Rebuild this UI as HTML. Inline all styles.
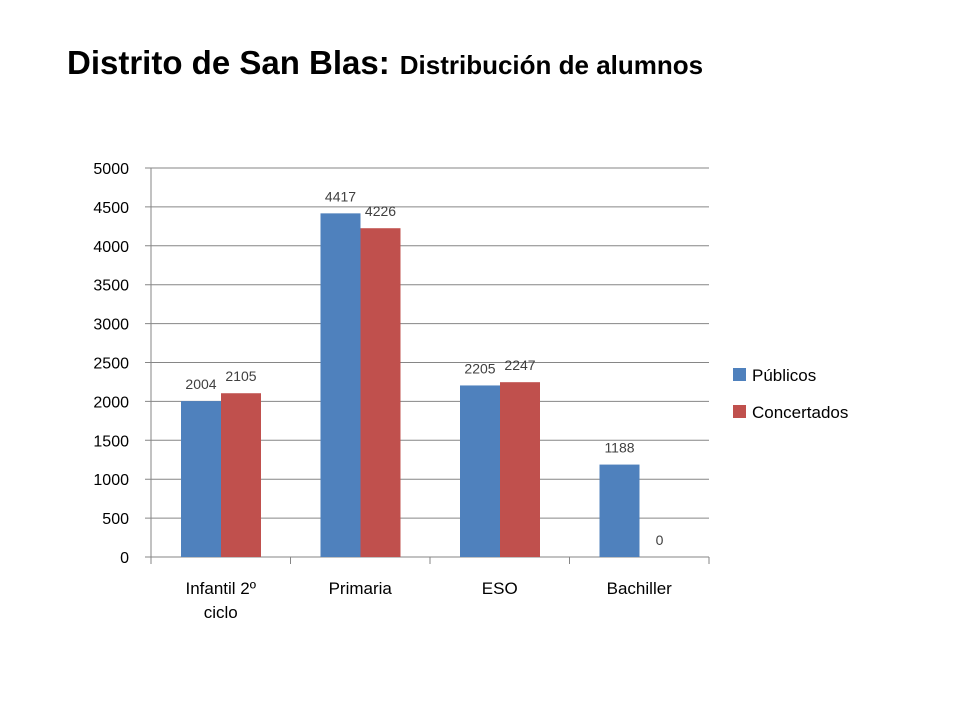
<!DOCTYPE html>
<html><head><meta charset="utf-8"><style>
body{margin:0;background:#fff;width:960px;height:720px;overflow:hidden;font-family:"Liberation Sans",sans-serif}
</style></head><body>
<svg width="960" height="720" xmlns="http://www.w3.org/2000/svg">
<text x="67" y="74" font-family="Liberation Sans, sans-serif" font-weight="bold" font-size="33" fill="#000">Distrito de San Blas:<tspan font-size="26" dx="10">Distribución de alumnos</tspan></text>
<g id="grid"></g><g id="bars"></g><g id="axes"></g>
<g>
<rect x="733" y="368" width="13" height="13" fill="#4f81bd"/>
<text x="752" y="381" font-size="17" fill="#000">Públicos</text>
<rect x="733" y="405" width="13" height="13" fill="#c0504d"/>
<text x="752" y="418" font-size="17" fill="#000">Concertados</text>
</g>
</svg>
<script>
const categories=[["Infantil 2º","ciclo"],["Primaria"],["ESO"],["Bachiller"]];
const publicos=[2004,4417,2205,1188];
const concertados=[2105,4226,2247,0];
const yTicks=[0,500,1000,1500,2000,2500,3000,3500,4000,4500,5000];
const NS="http://www.w3.org/2000/svg";
const X0=151,X1=709,Y0=557,Y1=168,YMAX=5000;
const y=v=>Y0-(Y0-Y1)*v/YMAX;
const gw=(X1-X0)/categories.length;
const x=i=>X0+gw*i;
function mk(parent,tag,attrs,txt){const e=document.createElementNS(NS,tag);for(const k in attrs)e.setAttribute(k,attrs[k]);if(txt!==undefined)e.textContent=txt;document.getElementById(parent).appendChild(e);return e;}
yTicks.forEach(t=>{
 const l=mk('grid','line',{x1:X0-6,x2:X1,y1:y(t),y2:y(t),stroke:t===0?'#868686':'#868686','stroke-width':1});
 
 
 const tx=mk('axes','text',{x:X0-22,y:y(t)+6,'text-anchor':'end','font-size':16,fill:'#000'},t);
 
 
});
const ax=mk('axes','line',{x1:X0,x2:X0,y1:Y1,y2:Y0,stroke:'#868686'});


for(let i=0;i<=categories.length;i++){
 const tk=mk('axes','line',{x1:x(i),x2:x(i),y1:Y0,y2:Y0+7,stroke:'#868686'});
 
 
}
categories.forEach((c,i)=>{
 const cx=x(i)+gw/2;
 c.forEach((ln,j)=>{
  const t=mk('axes','text',{x:cx,y:594+j*24,'text-anchor':'middle','font-size':17,fill:'#000'},ln);
  
  
 });
 [[publicos,'#4f81bd',0,'publicos'],[concertados,'#c0504d',1,'concertados']].forEach(([arr,col,k,nm])=>{
  const v=arr[i];const bx=x(i)+30+k*40;
  const r=mk('bars','rect',{x:bx,y:y(v),width:40,height:Y0-y(v),fill:col});
  
  
  const lbl=mk('bars','text',{x:bx+20,y:y(v)-12+(k===1&&v>0?0:0),'text-anchor':'middle','font-size':14,fill:'#404040'},v);
  
  
 });
});
</script>
</body></html>
